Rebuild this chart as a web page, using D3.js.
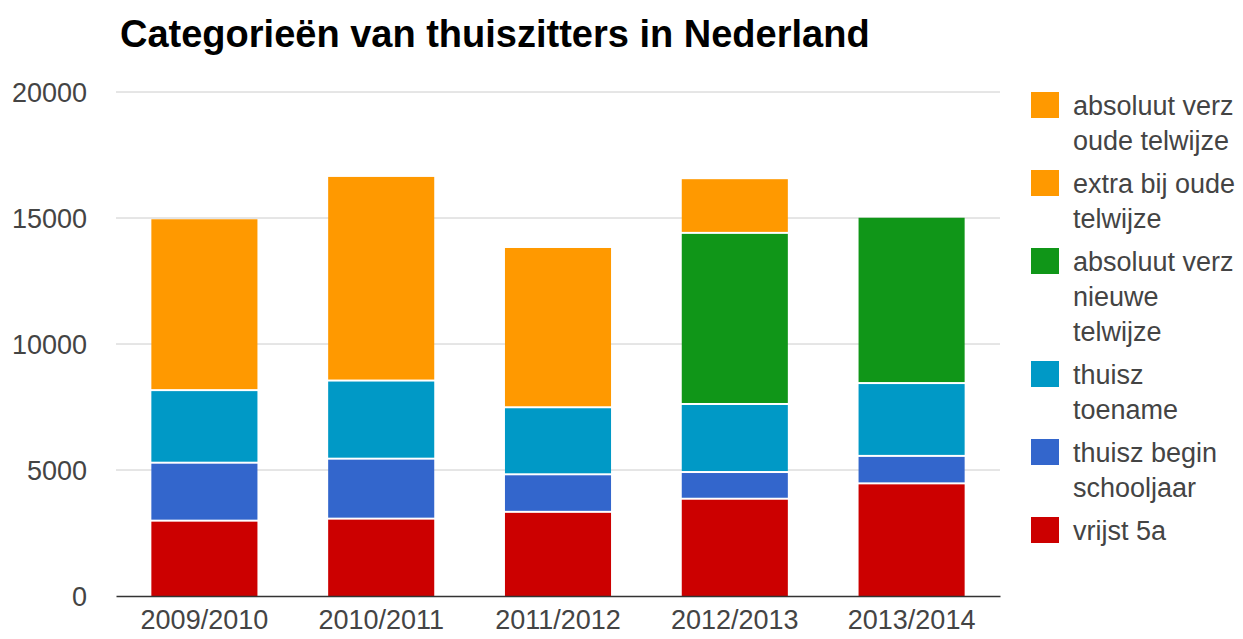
<!DOCTYPE html>
<html>
<head>
<meta charset="utf-8">
<script src="https://cdn.jsdelivr.net/npm/d3@7"></script>
<style>
  body { margin: 0; background: #fff; }
  text { font-family: "Liberation Sans", Arial, sans-serif; }
</style>
</head>
<body>
<div id="chart"></div>
<script>
// data
var categories = ["2009/2010", "2010/2011", "2011/2012", "2012/2013", "2013/2014"];
var vrijst5a = [2950, 3030, 3300, 3820, 4430];
var thuiszBegin = [2300, 2380, 1490, 1060, 1090];
var thuiszToename = [2880, 3100, 2660, 2700, 2890];
var absNieuwe = [0, 0, 0, 6790, 6600];
var extraOude = [0, 0, 0, 2170, 0];
var absOude = [6820, 8120, 6360, 0, 0];
var yTicks = [0, 5000, 10000, 15000, 20000];

// bottom to top
var seriesNames = ["vrijst 5a", "thuisz begin schooljaar", "thuisz toename", "absoluut verz nieuwe telwijze", "extra bij oude telwijze", "absoluut verz oude telwijze"];
var seriesValues = [vrijst5a, thuiszBegin, thuiszToename, absNieuwe, extraOude, absOude];
var seriesColors = ["#cc0000", "#3366cc", "#0099c6", "#109618", "#ff9900", "#ff9900"];
// legend text, already wrapped like the original
var legendLines = [
  ["vrijst 5a"],
  ["thuisz begin", "schooljaar"],
  ["thuisz", "toename"],
  ["absoluut verz", "nieuwe", "telwijze"],
  ["extra bij oude", "telwijze"],
  ["absoluut verz", "oude telwijze"]
];

var width = 1243, height = 639;
var plot = {left: 116, right: 1000, top: 92, bottom: 596};

var rows = categories.map(function(c, i){
  var r = {cat: c};
  seriesNames.forEach(function(s, j){ r[s] = seriesValues[j][i]; });
  return r;
});
var stacked = d3.stack().keys(seriesNames)(rows);

var x = d3.scaleBand()
    .domain(categories)
    .range([plot.left, plot.right])
    .paddingInner(0.4)
    .paddingOuter(0.2);

var y = d3.scaleLinear()
    .domain([0, 20000])
    .range([plot.bottom, plot.top]);

var svg = d3.select("#chart")
    .append("svg")
    .attr("width", width)
    .attr("height", height);

// title
svg.append("text")
    .attr("x", 120)
    .attr("y", 47)
    .style("font-size", "38px")
    .style("font-weight", "bold")
    .style("fill", "#000")
    .text("Categorieën van thuiszitters in Nederland");

// gridlines
svg.append("g")
    .selectAll("line")
    .data(yTicks.filter(function(t){ return t > 0; }))
    .join("line")
    .attr("x1", plot.left)
    .attr("x2", plot.right)
    .attr("y1", function(d){ return y(d); })
    .attr("y2", function(d){ return y(d); })
    .style("stroke", "#cccccc")
    .style("stroke-width", "1px");

// y axis labels
var yAxis = svg.append("g")
    .attr("transform", "translate(" + 87 + ",0)")
    .call(d3.axisLeft(y).tickValues(yTicks).tickSize(0).tickPadding(0).tickFormat(d3.format("d")));
yAxis.select(".domain").remove();
yAxis.selectAll("text")
    .style("font-size", "27px")
    .style("fill", "#444")
    .attr("dy", "0.36em");

// bars
svg.append("g")
    .selectAll("g")
    .data(stacked)
    .join("g")
    .style("fill", function(d, i){ return seriesColors[i]; })
    .selectAll("rect")
    .data(function(d){ return d.filter(function(p){ return p[1] - p[0] > 0; }); })
    .join("rect")
    .attr("x", function(d){ return x(d.data.cat); })
    .attr("width", x.bandwidth())
    .attr("y", function(d){ return y(d[1]); })
    .attr("height", function(d){ return y(d[0]) - y(d[1]) - (d[0] > 0 ? 2 : 0); });

// baseline + x labels
var xAxis = svg.append("g")
    .attr("transform", "translate(0," + plot.bottom + ")")
    .call(d3.axisBottom(x).tickSize(0).tickPadding(14));
xAxis.select(".domain")
    .style("stroke", "#333")
    .style("stroke-width", "1.5px");
xAxis.selectAll("text")
    .style("font-size", "27px")
    .style("fill", "#444");

// legend, top entry is the last series
var legend = svg.append("g");
var ly = 92;
for (var k = seriesNames.length - 1; k >= 0; k--) {
  legend.append("rect")
      .attr("x", 1031)
      .attr("y", ly)
      .attr("width", 28)
      .attr("height", 26)
      .style("fill", seriesColors[k]);
  legendLines[k].forEach(function(t, n){
    legend.append("text")
        .attr("x", 1073)
        .attr("y", ly + 23 + n * 35)
        .style("font-size", "27px")
        .style("fill", "#444")
        .text(t);
  });
  ly += legendLines[k].length * 35 + 8;
}
</script>
</body>
</html>
